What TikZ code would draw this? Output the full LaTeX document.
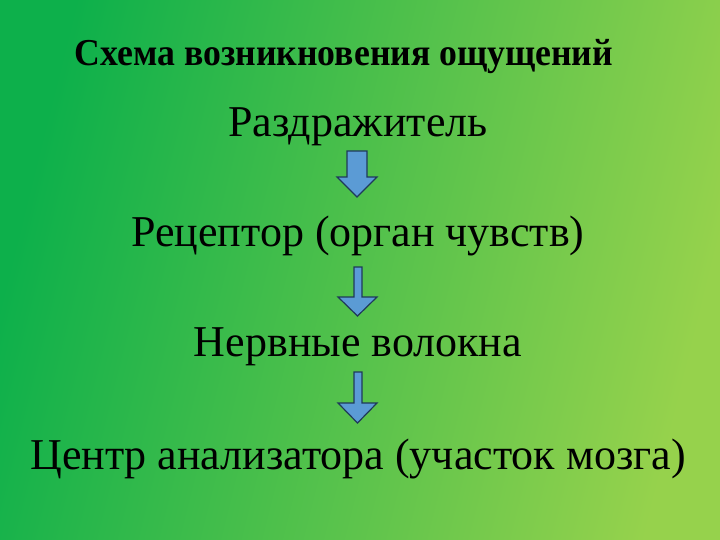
\documentclass[tikz,border=0pt]{standalone}
\usepackage{fontspec}
\setmainfont{Liberation Serif}
\newfontfamily\titlefont[FakeStretch=0.94]{Liberation Serif}
\definecolor{bgA}{HTML}{0DB04B}
\definecolor{bgB}{HTML}{96D24C}
\definecolor{arrfill}{HTML}{5B9BD5}
\definecolor{arrline}{HTML}{1F3A5A}
\tikzset{
  stage/.style={inner sep=0pt, anchor=base, font=\fontsize{44}{44}\selectfont},
  downarrow/.style={fill=arrfill, draw=arrline, line width=1.2pt, line join=miter}
}
\begin{document}
\begin{tikzpicture}[x=1pt,y=-1pt]
\useasboundingbox (0,0) rectangle (720,540);
\shade[left color=bgA, right color=bgB, shading angle=76] (0,0) rectangle (720,540);
\node[inner sep=0pt, anchor=base, font=\titlefont\bfseries\fontsize{38}{38}\selectfont] (title) at (344,66) {Схема возникновения ощущений};
\node[stage] (s1) at (358,137) {Раздражитель};
\node[stage] (s2) at (358,246) {Рецептор (орган чувств)};
\node[stage] (s3) at (358,356) {Нервные волокна};
\node[stage] (s4) at (358,469) {Центр анализатора (участок мозга)};
\draw[downarrow] (347,151) -- (367,151) -- (367,177) -- (377,177) -- (357,197) -- (337,177) -- (347,177) -- cycle;
\draw[downarrow] (354,267) -- (362,267) -- (362,297) -- (377,297) -- (357.5,316) -- (338,297) -- (354,297) -- cycle;
\draw[downarrow] (354,372) -- (362,372) -- (362,403) -- (377,403) -- (357.5,423) -- (338,403) -- (354,403) -- cycle;
\end{tikzpicture}
\end{document}
